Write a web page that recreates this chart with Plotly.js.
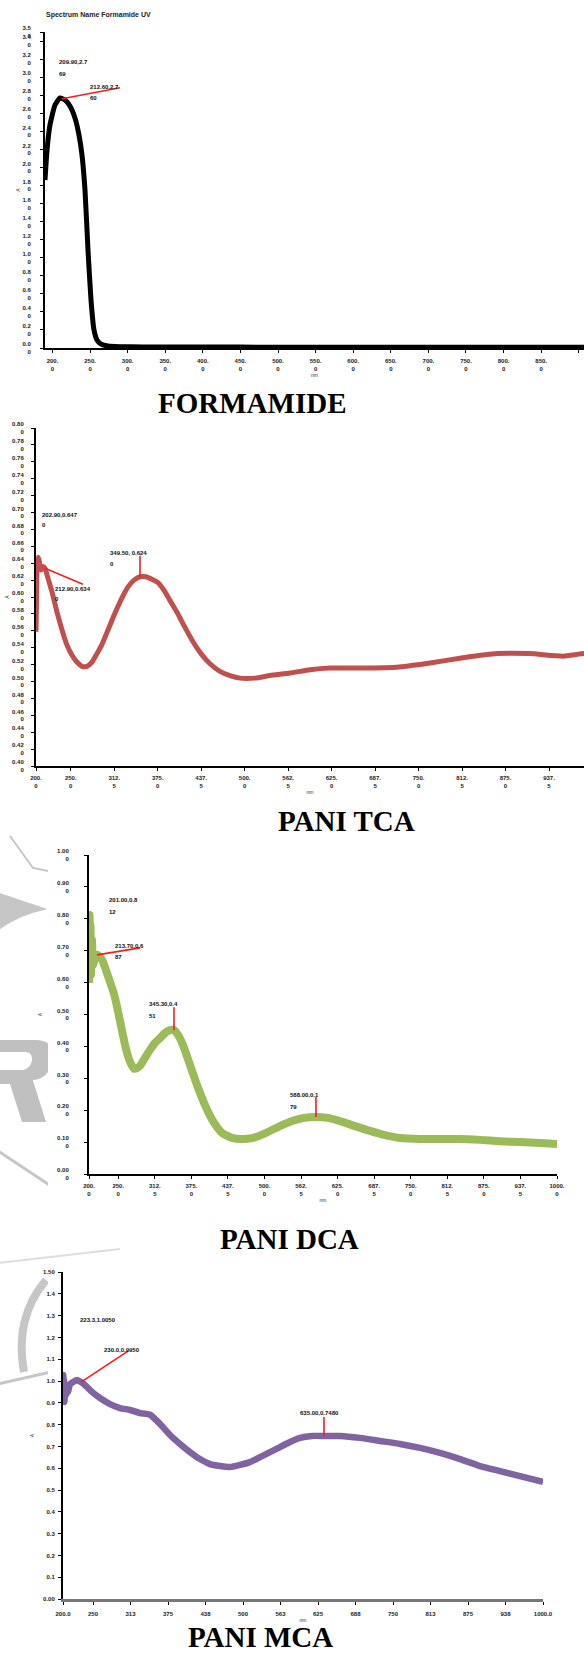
<!DOCTYPE html>
<html><head><meta charset="utf-8">
<script src="https://cdn.plot.ly/plotly-3.0.1.min.js"></script>
<style>html,body{margin:0;padding:0;background:#fff;}
#wrap{position:relative;width:584px;height:1658px;overflow:hidden;}
#bg,#chart{position:absolute;left:0;top:0;width:584px;height:1658px;}</style>
</head><body><div id="wrap"><div id="bg"></div><div id="chart"></div></div>
<script>
// ---------- data ----------
const formWl  = [190, 192.7, 196.6, 203.3, 209.9, 216.6, 223.2, 229.9, 235.2, 239.2, 243.2, 247.2, 251.2, 255.2, 259.1, 264.5, 273.8, 289.7, 320, 360, 400, 450, 500, 550, 600, 650, 700, 750, 800, 850, 900, 907];
const formAbs = [1.861, 2.193, 2.470, 2.691, 2.769, 2.747, 2.680, 2.547, 2.359, 2.138, 1.750, 1.085, 0.532, 0.199, 0.089, 0.044, 0.022, 0.015, 0.012, 0.011, 0.010, 0.010, 0.009, 0.009, 0.009, 0.008, 0.008, 0.008, 0.008, 0.008, 0.008, 0.008];

const tcaWl  = [200, 200.7, 201.4, 202.9, 204.3, 207.2, 210.1, 212.9, 217.3, 223.0, 230.2, 237.4, 244.6, 251.8, 258.9, 266.1, 273.3, 280.5, 287.7, 294.9, 303.5, 313.6, 323.6, 332.3, 340.9, 349.5, 358.1, 366.8, 375.4, 384.0, 392.6, 402.7, 414.2, 425.7, 437.2, 450.1, 464.5, 478.9, 493.3, 514.8, 536.4, 565.2, 593.9, 622.7, 665.8, 719.0, 766.4, 813.9, 862.7, 910.2, 957.6, 987.8, 1000];
const tcaAbs = [0.559, 0.596, 0.632, 0.647, 0.644, 0.632, 0.636, 0.634, 0.622, 0.606, 0.582, 0.561, 0.543, 0.531, 0.523, 0.518, 0.518, 0.523, 0.533, 0.544, 0.561, 0.581, 0.599, 0.612, 0.620, 0.624, 0.624, 0.621, 0.617, 0.608, 0.596, 0.582, 0.564, 0.547, 0.533, 0.521, 0.512, 0.507, 0.504, 0.504, 0.507, 0.510, 0.514, 0.516, 0.516, 0.517, 0.522, 0.528, 0.533, 0.533, 0.530, 0.533, 0.532];

const dcaWl  = [200, 200.5, 201, 201.7, 202.6, 203.4, 205.1, 206.8, 210.3, 213.7, 218.8, 223.9, 229.1, 235.9, 242.7, 249.6, 256.4, 263.2, 270.1, 276.9, 282.1, 287.2, 295.7, 304.3, 312.8, 321.4, 329.9, 338.5, 345.3, 352.1, 360.7, 372.6, 384.6, 398.3, 412.0, 427.4, 444.4, 465.0, 485.5, 506.0, 526.5, 547.0, 567.5, 588.0, 608.5, 629.1, 654.7, 680.3, 706.0, 731.6, 765.8, 800.0, 834.2, 868.4, 902.6, 936.8, 971.0, 1000];
const dcaAbs = [0.599, 0.765, 0.812, 0.655, 0.781, 0.624, 0.734, 0.655, 0.677, 0.687, 0.680, 0.665, 0.639, 0.602, 0.565, 0.510, 0.450, 0.392, 0.352, 0.330, 0.332, 0.339, 0.364, 0.389, 0.411, 0.426, 0.442, 0.451, 0.451, 0.436, 0.404, 0.342, 0.279, 0.216, 0.166, 0.129, 0.113, 0.110, 0.116, 0.132, 0.150, 0.166, 0.176, 0.179, 0.176, 0.166, 0.150, 0.135, 0.122, 0.113, 0.110, 0.110, 0.110, 0.107, 0.103, 0.100, 0.097, 0.094];

const mcaWl  = [200, 200.5, 201.2, 201.7, 202.5, 203.3, 205, 206.7, 208.3, 211.7, 216.7, 223.3, 230, 238.3, 248.3, 261.7, 278.3, 295, 311.7, 328.3, 345, 361.7, 378.3, 395, 411.7, 428.3, 445, 461.7, 478.3, 495, 511.7, 528.3, 545, 561.7, 578.3, 595, 615, 635, 661.7, 695, 728.3, 761.7, 795, 828.3, 861.7, 895, 928.3, 961.7, 1000];
const mcaAbs = [0.890, 1.027, 0.922, 1.005, 0.904, 0.982, 0.936, 0.982, 0.950, 0.986, 0.995, 1.005, 0.995, 0.977, 0.950, 0.922, 0.894, 0.876, 0.867, 0.853, 0.845, 0.803, 0.752, 0.711, 0.674, 0.642, 0.619, 0.610, 0.605, 0.615, 0.628, 0.651, 0.674, 0.697, 0.720, 0.739, 0.748, 0.748, 0.748, 0.739, 0.725, 0.711, 0.693, 0.670, 0.642, 0.610, 0.587, 0.564, 0.537];

// tick values
const formTickWl = [200, 250, 300, 350, 400, 450, 500, 550, 600, 650, 700, 750, 800, 850, 900];
const pvTickWl   = [200, 250, 312.5, 375, 437.5, 500, 562.5, 625, 687.5, 750, 812.5, 875, 937.5, 1000];
const formTickAbs = [0, 0.2, 0.4, 0.6, 0.8, 1.0, 1.2, 1.4, 1.6, 1.8, 2.0, 2.2, 2.4, 2.6, 2.8, 3.0, 3.2, 3.4, 3.5];
const tcaTickAbs = [0.40, 0.42, 0.44, 0.46, 0.48, 0.50, 0.52, 0.54, 0.56, 0.58, 0.60, 0.62, 0.64, 0.66, 0.68, 0.70, 0.72, 0.74, 0.76, 0.78, 0.80];
const dcaTickAbs = [0, 0.1, 0.2, 0.3, 0.4, 0.5, 0.6, 0.7, 0.8, 0.9, 1.0];
const mcaTickAbs = [0, 0.1, 0.2, 0.3, 0.4, 0.5, 0.6, 0.7, 0.8, 0.9, 1.0, 1.1, 1.2, 1.3, 1.4, 1.5];

// peak labels
const formPeaks = [
  {wl: 209.9, abs: 2.769, lines: ['209.90,2.7', '69']},
  {wl: 212.6, abs: 2.760, lines: ['212.60,2.7', '60']}
];
const tcaPeaks = [
  {wl: 202.9, abs: 0.647, lines: ['202.90,0.647', '0']},
  {wl: 212.9, abs: 0.634, lines: ['212.90,0.634', '0']},
  {wl: 349.5, abs: 0.624, lines: ['349.50, 0.624', '0']}
];
const dcaPeaks = [
  {wl: 201.0, abs: 0.812, lines: ['201.00,0.8', '12']},
  {wl: 213.7, abs: 0.687, lines: ['213.70,0.6', '87']},
  {wl: 345.3, abs: 0.451, lines: ['345.30,0.4', '51']},
  {wl: 588.0, abs: 0.179, lines: ['588.00,0.1', '79']}
];
const mcaPeaks = [
  {wl: 223.3, abs: 1.005, lines: ['223.3,1.0050']},
  {wl: 230.0, abs: 0.995, lines: ['230.0,0.9950']},
  {wl: 635.0, abs: 0.748, lines: ['635.00,0.7480']}
];

// ---------- layout helpers ----------
const W = 584, H = 1658;
const fx = p => p / W;
const fy = p => 1 - p / H;
const tickFont = {family: 'Liberation Sans, Arial, sans-serif', size: 6, color: '#222', weight: 'bold'};
const labelFont = {family: 'Liberation Sans, Arial, sans-serif', size: 6, color: '#111', weight: 'bold'};

function wlText2(v) { const s = v.toFixed(1); const i = s.indexOf('.'); return s.slice(0, i + 1) + '<br>' + s.slice(i + 1); }
function wlText1(v, i, n) { return (i === 0 || i === n - 1) ? v.toFixed(1) : String(Math.round(v)); }
function absText2(v, d) { return v.toFixed(d) + '<br>0'; }

function axis(extra) {
  return Object.assign({showline: true, linecolor: '#000', linewidth: 2, ticks: 'outside', ticklen: 3,
    tickwidth: 1, tickcolor: '#000', showgrid: false, zeroline: false, tickfont: tickFont,
    fixedrange: true, tickmode: 'array', automargin: false}, extra);
}
function tinyTitle(t, standoff) { return {text: t, font: {family: 'Liberation Sans', size: 5, color: '#333'}, standoff: standoff}; }

// per-panel placement of peak marks (pixels): label offsets and red leader lines
const formMarkPos = [{tx: -3, ty: [36, 24]}, {tx: 26, ty: [12, 1], line: [58, 11]}];
const tcaMarkPos  = [{tx: 2, ty: [42, 32]}, {tx: 8, ty: [-21, -31], line: [38, -16]}, {tx: -32, ty: [24, 13], line: [0, 21]}];
const dcaMarkPos  = [{tx: 17, ty: [15, 3]}, {tx: 16, ty: [9, -2], line: [43, 7]}, {tx: -27, ty: [26, 14], line: [0, 23]}, {tx: -28, ty: [22, 10], line: [0, 20]}];
const mcaMarkPos  = [{tx: 1, ty: [60]}, {tx: 21, ty: [32], line: [47, 31]}, {tx: -26, ty: [23], line: [0, 19]}];

// white backgrounds of the pasted chart pictures (they hide the page watermark)
const shapes = [
  {type: 'rect', xref: 'paper', yref: 'paper', layer: 'below', x0: fx(48), x1: 1, y0: fy(1212), y1: fy(832), fillcolor: '#fff', line: {width: 0}},
  {type: 'rect', xref: 'paper', yref: 'paper', layer: 'below', x0: fx(48), x1: 1, y0: fy(1620), y1: fy(1258), fillcolor: '#fff', line: {width: 0}}
];
const annotations = [];
function addMarks(xr, yr, peaks, pos) {
  peaks.forEach((p, k) => {
    const q = pos[k];
    if (q.line) shapes.push({type: 'line', xref: xr, yref: yr, xsizemode: 'pixel', ysizemode: 'pixel',
      xanchor: p.wl, yanchor: p.abs, x0: 0, y0: 0, x1: q.line[0], y1: q.line[1], line: {color: '#ff1a1a', width: 1.6}});
    p.lines.forEach((t, i) => annotations.push({xref: xr, yref: yr, x: p.wl, y: p.abs, text: t, showarrow: false,
      xanchor: 'left', yanchor: 'middle', xshift: q.tx, yshift: q.ty[i], font: labelFont}));
  });
}
addMarks('x', 'y', formPeaks, formMarkPos);
addMarks('x2', 'y2', tcaPeaks, tcaMarkPos);
addMarks('x3', 'y3', dcaPeaks, dcaMarkPos);
addMarks('x4', 'y4', mcaPeaks, mcaMarkPos);

// captions and chart title
const capFont = {family: 'Liberation Serif, Times New Roman, serif', size: 29, color: '#000'};
[['FORMAMIDE', 252, 403], ['PANI TCA', 346, 821], ['PANI DCA', 289, 1239], ['PANI MCA', 260, 1637]].forEach(c => {
  annotations.push({xref: 'paper', yref: 'paper', x: fx(c[1]), y: fy(c[2]), text: '<b>' + c[0] + '</b>', showarrow: false,
    xanchor: 'center', yanchor: 'middle', font: capFont});
});
annotations.push({xref: 'paper', yref: 'paper', x: fx(44), y: fy(15), text: '<b>Spectrum Name Formamide UV</b>', showarrow: false,
  xanchor: 'left', yanchor: 'middle', font: {family: 'Liberation Sans', size: 7, color: '#222'}});

const traces = [
  {x: formWl, y: formAbs, xaxis: 'x', yaxis: 'y', mode: 'lines', line: {color: '#000000', width: 5, shape: 'spline', smoothing: 0.5}},
  {x: tcaWl, y: tcaAbs, xaxis: 'x2', yaxis: 'y2', mode: 'lines', line: {color: '#C0504D', width: 5, shape: 'spline', smoothing: 0.5}},
  {x: dcaWl, y: dcaAbs, xaxis: 'x3', yaxis: 'y3', mode: 'lines', line: {color: '#9BBB59', width: 8, shape: 'spline', smoothing: 0.5}},
  {x: mcaWl, y: mcaAbs, xaxis: 'x4', yaxis: 'y4', mode: 'lines', line: {color: '#8064A2', width: 6.5, shape: 'spline', smoothing: 0.5}}
];

const layout = {
  width: W, height: H, margin: {l: 0, r: 0, t: 0, b: 0}, showlegend: false,
  paper_bgcolor: 'rgba(0,0,0,0)', plot_bgcolor: 'rgba(0,0,0,0)',
  xaxis: axis({domain: [fx(45), 1], range: [190, 907], anchor: 'y', tickvals: formTickWl, ticktext: formTickWl.map(wlText2), ticklabelstandoff: 3, title: tinyTitle('nm', 2)}),
  yaxis: axis({domain: [fy(348), fy(32)], range: [0, 3.5], anchor: 'x', tickvals: formTickAbs, ticktext: formTickAbs.map(v => absText2(v, 1)), ticklabelstandoff: 8, title: tinyTitle('A', 2)}),
  xaxis2: axis({domain: [fx(36), 1], range: [200, 987.8], anchor: 'y2', tickvals: pvTickWl, ticktext: pvTickWl.map(wlText2), ticklabelstandoff: 2, title: tinyTitle('nm', 2)}),
  yaxis2: axis({domain: [fy(766), fy(428)], range: [0.40, 0.80], anchor: 'x2', tickvals: tcaTickAbs, ticktext: tcaTickAbs.map(v => absText2(v, 2)), ticklabelstandoff: 6, title: tinyTitle('A', 2)}),
  xaxis3: axis({domain: [fx(89), fx(557)], range: [200, 1000], anchor: 'y3', tickvals: pvTickWl, ticktext: pvTickWl.map(wlText2), ticklabelstandoff: 2, title: tinyTitle('nm', 2)}),
  yaxis3: axis({domain: [fy(1174), fy(855)], range: [0, 1.0], anchor: 'x3', tickvals: dcaTickAbs, ticktext: dcaTickAbs.map(v => absText2(v, 2)), ticklabelstandoff: 14, title: tinyTitle('A', 14)}),
  xaxis4: axis({domain: [fx(63), fx(543)], range: [200, 1000], anchor: 'y4', linecolor: '#777', linewidth: 3, tickvals: pvTickWl, ticktext: pvTickWl.map((v, i) => wlText1(v, i, pvTickWl.length)), ticklabelstandoff: 4, title: tinyTitle('nm', 3)}),
  yaxis4: axis({domain: [fy(1599), fy(1272)], range: [0, 1.5], anchor: 'x4', tickvals: mcaTickAbs, ticktext: mcaTickAbs.map((v, i) => (i === 0 || i === mcaTickAbs.length - 1) ? v.toFixed(2) : v.toFixed(1)), ticklabelstandoff: 2, title: tinyTitle('A', 8)}),
  shapes: shapes,
  annotations: annotations
};

// ---------- page watermark fragments behind the pasted charts ----------
const wmGray = '#c6c6c6';
const P = (x, y) => fx(x).toFixed(4) + ',' + fy(y).toFixed(4);
function pathOf(pts) { return pts.map((s, i) => s).join(''); }
const rOuter = 'M' + P(-40, 1122) + 'L' + P(-22.8, 1040) + 'L' + P(35.2, 1040) +
  'C' + P(51.2, 1040) + ' ' + P(55.1, 1050) + ' ' + P(52.8, 1061) +
  'C' + P(50.1, 1074) + ' ' + P(40.8, 1080) + ' ' + P(32.8, 1080) +
  'L' + P(46, 1122) + 'L' + P(22, 1122) + 'L' + P(10, 1084) + 'L' + P(-10, 1084) + 'L' + P(-18, 1122) + 'Z';
const rCounter = 'M' + P(-7.1, 1070) + 'L' + P(20.9, 1070) +
  'C' + P(27.9, 1070) + ' ' + P(31, 1065) + ' ' + P(31.8, 1061) +
  'C' + P(32.9, 1056) + ' ' + P(30.7, 1052) + ' ' + P(24.7, 1052) +
  'L' + P(-3.3, 1052) + 'Z';
const bgLayout = {
  width: W, height: H, margin: {l: 0, r: 0, t: 0, b: 0}, paper_bgcolor: '#ffffff', plot_bgcolor: '#ffffff',
  xaxis: {visible: false, range: [0, 1]}, yaxis: {visible: false, range: [0, 1]},
  shapes: [
    {type: 'path', xref: 'paper', yref: 'paper', path: 'M' + P(10, 836) + 'L' + P(33, 868) + 'L' + P(58, 873), line: {color: wmGray, width: 2}},
    {type: 'path', xref: 'paper', yref: 'paper', path: 'M' + P(-2, 893) + 'Q' + P(25, 902) + ' ' + P(46, 909) + 'Q' + P(20, 914) + ' ' + P(-2, 930) + 'Z', fillcolor: wmGray, line: {color: wmGray, width: 1}},
    {type: 'path', xref: 'paper', yref: 'paper', path: rOuter, fillcolor: '#c0c0c0', line: {width: 0}},
    {type: 'path', xref: 'paper', yref: 'paper', path: rCounter, fillcolor: '#ffffff', line: {width: 0}},
    {type: 'path', xref: 'paper', yref: 'paper', path: 'M' + P(-2, 1151) + 'L' + P(60, 1192), line: {color: wmGray, width: 3}},
    {type: 'path', xref: 'paper', yref: 'paper', path: 'M' + P(46, 1280) + 'Q' + P(14, 1318) + ' ' + P(24, 1372), line: {color: wmGray, width: 8}},
    {type: 'path', xref: 'paper', yref: 'paper', path: 'M' + P(-2, 1384) + 'L' + P(60, 1370), line: {color: wmGray, width: 3}},
    {type: 'path', xref: 'paper', yref: 'paper', path: 'M' + P(-2, 1263) + 'L' + P(120, 1249), line: {color: '#dddddd', width: 2}},
    {type: 'path', xref: 'paper', yref: 'paper', path: 'M' + P(62, 836) + 'L' + P(64, 841), line: {color: '#ff3030', width: 1.5}},
    {type: 'path', xref: 'paper', yref: 'paper', path: 'M' + P(53, 879) + 'L' + P(54, 883), line: {color: '#ff3030', width: 1.5}}
  ]
};

Plotly.newPlot('bg', [], bgLayout, {staticPlot: true, displayModeBar: false});
Plotly.newPlot('chart', traces, layout, {staticPlot: true, displayModeBar: false});
</script>
</body></html>
